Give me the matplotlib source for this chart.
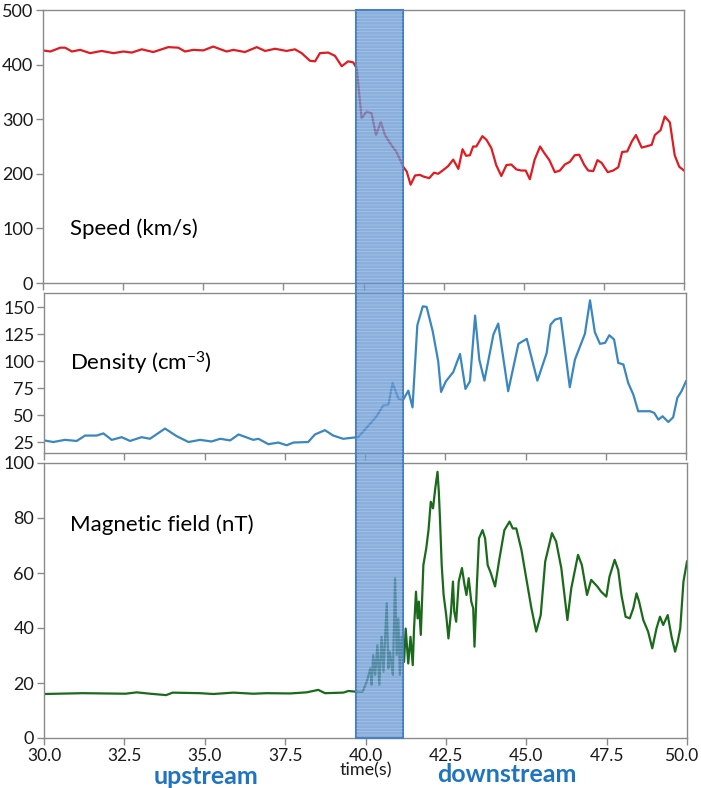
import matplotlib
matplotlib.use("Agg")
import matplotlib.pyplot as plt
from matplotlib.patches import Rectangle
from matplotlib.transforms import blended_transform_factory, ScaledTranslation

plt.rcParams['font.family'] = ['Lato', 'DejaVu Sans']
plt.rcParams['mathtext.default'] = 'regular'

# ---- solar wind speed (km/s) ----
speed_t = [30.0, 30.23, 30.54, 30.69, 30.90, 31.16, 31.47, 31.83, 32.20, 32.51, 32.77,
           33.08, 33.44, 33.91, 34.22, 34.43, 34.69, 35.00, 35.31, 35.73, 35.94, 36.30,
           36.67, 36.93, 37.24, 37.60, 37.86, 38.07, 38.33, 38.49, 38.64, 38.90, 39.11,
           39.32, 39.52, 39.68, 39.79, 39.94, 40.10, 40.25, 40.39, 40.54, 40.67, 40.83,
           41.03, 41.24, 41.35, 41.47, 41.61, 41.76, 41.87, 42.05, 42.20, 42.33, 42.49,
           42.64, 42.80, 42.96, 43.09, 43.20, 43.32, 43.42, 43.52, 43.71, 43.84, 43.99,
           44.14, 44.30, 44.46, 44.61, 44.77, 44.92, 45.06, 45.19, 45.34, 45.51, 45.63,
           45.80, 45.97, 46.13, 46.28, 46.44, 46.59, 46.73, 46.89, 47.01, 47.17, 47.30,
           47.43, 47.62, 47.79, 47.95, 48.07, 48.23, 48.37, 48.50, 48.68, 48.81, 48.99,
           49.09, 49.27, 49.40, 49.56, 49.71, 49.85, 50.0]
speed_v = [426, 424, 431, 431, 424, 427, 421, 425, 421, 424, 422,
           428, 423, 432, 431, 424, 427, 426, 433, 424, 427, 423,
           432, 425, 429, 425, 428, 421, 407, 406, 421, 422, 416,
           397, 406, 404, 393, 302, 314, 311, 271, 295, 271, 256,
           240, 213, 204, 180, 197, 198, 195, 192, 202, 200, 207,
           214, 226, 209, 245, 233, 234, 250, 250, 269, 262, 247,
           216, 196, 216, 217, 208, 206, 206, 190, 226, 250, 239,
           225, 203, 206, 217, 222, 234, 235, 216, 206, 205, 225,
           220, 203, 206, 212, 240, 241, 259, 271, 248, 250, 253,
           271, 280, 305, 294, 234, 213, 206]

# ---- density (cm^-3) ----
dens_t = [30.0, 30.29, 30.65, 31.02, 31.28, 31.64, 31.85, 32.11, 32.42, 32.68, 33.04,
          33.30, 33.77, 34.13, 34.50, 34.86, 35.22, 35.49, 35.80, 36.06, 36.52, 36.68,
          36.99, 37.30, 37.56, 37.77, 38.23, 38.44, 38.75, 39.01, 39.32, 39.79, 40.01,
          40.21, 40.36, 40.57, 40.73, 40.86, 41.04, 41.19, 41.35, 41.48, 41.63, 41.80,
          41.92, 42.11, 42.28, 42.37, 42.52, 42.75, 42.96, 43.13, 43.27, 43.43, 43.56,
          43.72, 44.00, 44.15, 44.46, 44.78, 45.04, 45.37, 45.66, 45.78, 45.92, 46.10,
          46.38, 46.54, 46.85, 47.01, 47.16, 47.32, 47.48, 47.61, 47.76, 47.89, 48.05,
          48.20, 48.36, 48.51, 48.88, 49.01, 49.14, 49.27, 49.45, 49.60, 49.73, 49.86,
          50.0]
dens_v = [26.5, 25, 27, 26, 31, 31, 33, 27, 29.5, 26, 29.5,
          28, 37.5, 30.5, 25, 27, 25.5, 28, 26.5, 32, 27, 28,
          23, 24.5, 22, 24.5, 25, 32, 36, 31, 28, 29.6, 37,
          43.6, 48.9, 59, 59.7, 79.8, 65.3, 64.3, 72.7, 57.2, 133.4, 151,
          150.5, 127.8, 100, 71.5, 81.4, 90, 106.8, 74.3, 81.4, 142.4, 101.6,
          82, 124.8, 135, 72.2, 116.2, 120.8, 82, 107.7, 134, 138.7, 140.2,
          75.9, 101.6, 125.4, 156.6, 127, 116.2, 117.1, 124.2, 120.2, 98.5, 97,
          79.8, 69, 53.6, 53.6, 52, 45.8, 48.9, 43.6, 48, 66, 72.2,
          81.4]

# ---- magnetic field (nT) ----
bfield_t = [30.0, 31.2, 32.54, 32.88, 33.3, 33.8, 34.0, 34.85, 35.27, 35.89, 36.51,
            36.92, 37.65, 38.17, 38.53, 38.74, 39.31, 39.47, 39.73, 39.91, 40.04, 40.15,
            40.19, 40.24, 40.30, 40.37, 40.43, 40.50, 40.56, 40.66, 40.71, 40.76, 40.85,
            40.92, 40.97, 41.02, 41.07, 41.12, 41.20, 41.25, 41.33, 41.40, 41.47, 41.51,
            41.57, 41.62, 41.66, 41.72, 41.80, 41.89, 41.96, 42.03, 42.10, 42.17, 42.24,
            42.28, 42.32, 42.37, 42.43, 42.51, 42.58, 42.66, 42.72, 42.76, 42.82, 42.90,
            43.00, 43.08, 43.14, 43.21, 43.29, 43.35, 43.39, 43.46, 43.53, 43.64, 43.72,
            43.80, 43.90, 44.03, 44.16, 44.32, 44.48, 44.58, 44.69, 44.85, 45.00, 45.16,
            45.31, 45.45, 45.59, 45.80, 45.93, 46.09, 46.28, 46.40, 46.61, 46.73, 46.89,
            47.02, 47.21, 47.33, 47.49, 47.59, 47.75, 47.86, 47.96, 48.09, 48.22, 48.33,
            48.43, 48.51, 48.64, 48.79, 48.92, 49.05, 49.16, 49.26, 49.40, 49.52, 49.63,
            49.71, 49.79, 49.89, 50.0]
bfield_v = [16.0, 16.3, 16.1, 16.6, 16.1, 15.6, 16.5, 16.3, 16.0, 16.5, 16.1,
            16.3, 16.2, 16.6, 17.5, 16.3, 16.5, 17.1, 16.8, 16.8, 20.5, 25.3,
            19.3, 30.2, 22.9, 33.8, 19.3, 36.8, 24.1, 49, 25.3, 31.4, 22.9,
            58.1, 30.2, 43.5, 22.9, 36.8, 27.7, 39.8, 27.1, 36.8, 26.5, 39.8,
            53.2, 43.5, 49.6, 37.5, 62.9, 69, 75.6, 85.9, 83.5, 90.8, 96.8,
            89.6, 78.7, 62.9, 52, 44.7, 36.2, 46, 56.9, 46, 42.3, 56.9,
            61.8, 55.7, 52, 58.1, 49.6, 47.2, 33.2, 54.4, 72.6, 75.6, 72.6,
            62.9, 59.9, 55.1, 64.8, 75.6, 78.7, 76.2, 76.2, 68.4, 58.1, 47.2,
            38.7, 44.7, 64.2, 74.5, 71.4, 61.8, 42.9, 54.4, 66.6, 62.9, 52,
            57.5, 55.1, 53.2, 51.4, 58.7, 64.8, 61.1, 52, 44.1, 43.5, 47.2,
            52.6, 49.6, 42.9, 38.7, 32.6, 39.8, 44.1, 41.1, 44.7, 36.8, 31.4,
            35, 39.8, 56.9, 64.2]

# transition region (s)
ramp_start, ramp_end = 39.70, 41.17

x_ticks = [30.0, 32.5, 35.0, 37.5, 40.0, 42.5, 45.0, 47.5, 50.0]
speed_ticks = [0, 100, 200, 300, 400, 500]
dens_ticks = [25, 50, 75, 100, 125, 150]
bfield_ticks = [0, 20, 40, 60, 80, 100]

W, H = 701, 788
fig = plt.figure(figsize=(W / 100, H / 100), dpi=100)


def px_axes(left, top, right, bottom):
    return fig.add_axes([left / W, 1 - bottom / H, (right - left) / W, (bottom - top) / H])


ax1 = px_axes(43, 10, 684, 283)
ax2 = px_axes(44, 293, 686, 453)
ax3 = px_axes(44, 463, 687, 738)

spine_col = '#8a8a8a'
for ax in (ax1, ax2, ax3):
    ax.set_xlim(30, 50)
    ax.set_xticks(x_ticks)
    for s in ax.spines.values():
        s.set_color(spine_col)
        s.set_linewidth(1.0)
    ax.tick_params(direction='out', length=5, width=1, color=spine_col,
                   labelsize=13, labelcolor='#1a1a1a', pad=2)

ax1.plot(speed_t, speed_v, color='#e01b22', lw=1.6)
ax1.set_ylim(0, 500)
ax1.set_yticks(speed_ticks)
ax1.tick_params(axis='x', labelbottom=False)

ax2.plot(dens_t, dens_v, color='#3a87c0', lw=1.6)
ax2.set_ylim(14.8, 163.4)
ax2.set_yticks(dens_ticks)
ax2.tick_params(axis='x', labelbottom=False)

ax3.plot(bfield_t, bfield_v, color='#1b6a1b', lw=1.6)
ax3.set_ylim(0, 100)
ax3.set_yticks(bfield_ticks)
ax3.set_xticklabels([f'{v:.1f}' for v in x_ticks])
ax3.tick_params(axis='x', labelsize=12.5)
ax3.set_xlabel('time(s)', fontsize=13, labelpad=-1, color='#1a1a1a')

# keep the right-most tick label inside the canvas
last_lbl = ax3.get_xticklabels()[-1]
last_lbl.set_transform(last_lbl.get_transform() + ScaledTranslation(-4 / 72, 0, fig.dpi_scale_trans))

ax1.text(0.042, 0.2, 'Speed (km/s)', transform=ax1.transAxes, fontsize=16, va='center')
ax2.text(0.04, 0.56, 'Density (cm$^{-3}$)', transform=ax2.transAxes, fontsize=16, va='center')
ax3.text(0.04, 0.775, 'Magnetic field (nT)', transform=ax3.transAxes, fontsize=16, va='center')

# shaded band across all three panels
band_tr = blended_transform_factory(ax3.transData, fig.transFigure)
y0 = 1 - 738 / H
y1 = 1 - 10 / H
band = Rectangle((ramp_start, y0), ramp_end - ramp_start, y1 - y0, transform=band_tr,
                 facecolor=(0.38, 0.58, 0.81, 0.75), edgecolor='#4a7fbf', lw=1.5,
                 zorder=10, clip_on=False)
fig.add_artist(band)
plt.rcParams['hatch.linewidth'] = 0.6
band_tex = Rectangle((ramp_start, y0), ramp_end - ramp_start, y1 - y0, transform=band_tr,
                     fill=False, hatch='-----', edgecolor=(0.85, 0.9, 1.0, 0.35), lw=0,
                     zorder=11, clip_on=False)
fig.add_artist(band_tex)

fig.text(206 / W, 1 - 776 / H, 'upstream', color='#1f74c0', fontsize=18,
         fontweight='bold', ha='center', va='center')
fig.text(507 / W, 1 - 775 / H, 'downstream', color='#1f74c0', fontsize=18,
         fontweight='bold', ha='center', va='center')

fig.savefig('out.png', dpi=100)
